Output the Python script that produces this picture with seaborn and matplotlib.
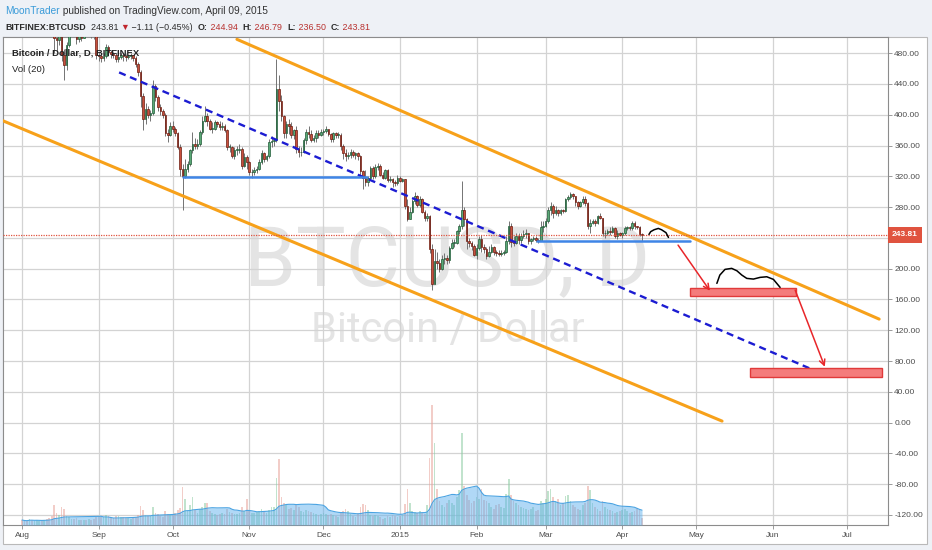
import numpy as np
import pandas as pd
import seaborn as sns
import matplotlib.pyplot as plt
import matplotlib.dates as mdates
from matplotlib.patches import Rectangle
from matplotlib.ticker import FuncFormatter, MultipleLocator

# BITFINEX:BTCUSD daily candles 2014-08-01 .. 2015-04-09
first_open = 594

close_aug = [590, 588, 584, 587, 583, 586, 590, 592, 588, 589, 574, 566, 545, 500, 497, 515, 478, 465, 490, 515,
             518, 513, 498, 505, 500, 510, 508, 508, 505, 502, 478]
high_aug = [596, 592, 590, 592, 590, 590, 595, 597, 594, 592, 590, 578, 568, 548, 510, 520, 520, 485, 495, 522,
            525, 520, 516, 508, 512, 515, 514, 513, 512, 508, 505]
low_aug = [586, 582, 580, 580, 578, 580, 582, 587, 585, 584, 570, 560, 535, 480, 482, 490, 470, 445, 458, 488,
           510, 505, 492, 495, 496, 500, 503, 503, 500, 498, 472]
vol_aug = [5, 4, 4, 6, 5, 4, 5, 4, 4, 5, 6, 7, 9, 20, 12, 10, 18, 16, 9, 8, 6, 6, 7, 5, 5, 5, 5, 6, 5, 6, 8]

close_sep = [476, 474, 476, 488, 482, 479, 478, 472, 475, 477, 476, 475, 476, 477, 474, 466, 455, 424, 395, 408,
             400, 402, 437, 423, 410, 405, 400, 376, 374, 386]
high_sep = [482, 480, 480, 492, 490, 484, 482, 480, 478, 480, 480, 479, 478, 480, 478, 476, 468, 458, 428, 415,
            412, 406, 445, 440, 425, 414, 408, 402, 382, 390]
low_sep = [470, 468, 470, 474, 476, 474, 474, 468, 468, 472, 470, 470, 472, 472, 470, 462, 450, 410, 380, 388,
           396, 392, 400, 418, 405, 400, 396, 372, 365, 372]
vol_sep = [9, 8, 8, 10, 9, 8, 7, 9, 9, 8, 8, 7, 7, 6, 7, 8, 10, 19, 15, 10, 9, 9, 18, 12, 11, 9, 8, 14, 11, 10]

close_oct = [382, 376, 358, 330, 320, 330, 336, 354, 362, 360, 362, 378, 392, 398, 392, 382, 382, 390, 388, 384,
             386, 380, 358, 358, 346, 354, 354, 356, 334, 345, 338]
high_oct = [392, 384, 378, 362, 336, 342, 340, 356, 378, 370, 368, 380, 398, 412, 402, 395, 390, 393, 392, 392,
            390, 388, 382, 362, 360, 358, 360, 362, 358, 350, 348]
low_oct = [378, 372, 355, 320, 276, 318, 326, 333, 350, 355, 356, 360, 375, 390, 385, 380, 376, 380, 384, 380,
           380, 378, 354, 352, 344, 342, 348, 350, 330, 332, 330]
vol_oct = [10, 12, 15, 17, 38, 26, 14, 20, 28, 15, 12, 16, 18, 22, 22, 14, 12, 11, 10, 11,
           12, 11, 16, 13, 12, 11, 11, 12, 18, 14, 26]

close_nov = [325, 325, 328, 330, 338, 350, 343, 346, 364, 366, 367, 434, 418, 398, 376, 388, 385, 374, 380, 356,
             351, 352, 367, 378, 375, 367, 370, 376, 374, 378]
high_nov = [340, 330, 332, 334, 342, 354, 352, 348, 368, 372, 370, 472, 452, 425, 400, 392, 395, 390, 382, 385,
            360, 358, 370, 382, 385, 380, 374, 380, 380, 382]
low_nov = [322, 318, 322, 324, 328, 336, 338, 340, 344, 358, 360, 364, 405, 392, 370, 370, 375, 370, 368, 350,
           345, 346, 350, 362, 370, 364, 365, 365, 370, 372]
vol_nov = [14, 12, 12, 13, 14, 16, 13, 12, 15, 18, 18, 47, 66, 28, 22, 20, 16, 17, 15, 20,
           18, 14, 13, 15, 14, 13, 12, 11, 10, 11]

close_dec = [379, 381, 375, 368, 376, 374, 374, 360, 350, 347, 348, 352, 348, 350, 346, 327, 318, 312, 318, 331,
             321, 332, 334, 322, 318, 328, 315, 316, 312, 311, 318]
high_dec = [382, 385, 382, 376, 378, 378, 378, 376, 362, 355, 352, 356, 354, 352, 352, 348, 328, 328, 320, 334,
            334, 336, 337, 336, 325, 330, 330, 320, 318, 315, 322]
low_dec = [374, 376, 372, 364, 365, 370, 370, 354, 342, 340, 342, 344, 345, 343, 341, 322, 303, 308, 308, 315,
           317, 318, 328, 320, 316, 316, 312, 312, 306, 308, 309]
vol_dec = [12, 11, 10, 11, 10, 9, 8, 12, 14, 16, 14, 11, 9, 8, 12, 18, 21, 20, 15, 10,
           9, 10, 9, 8, 6, 7, 9, 8, 10, 9, 8]

close_jan = [314, 316, 282, 264, 274, 288, 294, 283, 290, 274, 266, 268, 226, 180, 210, 208, 200, 212, 214, 211,
             227, 234, 234, 249, 255, 276, 264, 236, 234, 229, 218]
high_jan = [321, 318, 316, 290, 280, 290, 300, 296, 295, 292, 276, 272, 270, 232, 225, 222, 212, 218, 220, 218,
            230, 238, 238, 250, 258, 314, 280, 266, 240, 236, 232]
low_jan = [312, 312, 278, 262, 265, 272, 284, 280, 280, 272, 262, 262, 220, 172, 180, 200, 196, 198, 206, 206,
           208, 226, 228, 232, 245, 252, 255, 226, 228, 224, 216]
vol_jan = [9, 10, 21, 36, 22, 14, 13, 12, 14, 12, 11, 20, 67, 120, 82, 36, 24, 20, 18, 22,
           25, 22, 20, 28, 35, 92, 39, 30, 25, 22, 24]

close_feb = [227, 238, 228, 226, 216, 222, 228, 222, 220, 219, 220, 222, 236, 255, 235, 234, 243, 237, 242, 245,
             246, 236, 239, 240, 237, 236, 254, 255]
high_feb = [232, 242, 244, 232, 228, 230, 232, 230, 224, 224, 224, 224, 242, 262, 260, 242, 246, 246, 246, 250,
            252, 246, 240, 242, 242, 240, 262, 262]
low_feb = [212, 224, 222, 220, 212, 215, 220, 218, 216, 216, 216, 218, 220, 232, 228, 230, 232, 232, 234, 240,
           240, 232, 232, 236, 235, 234, 236, 248]
vol_feb = [28, 26, 36, 25, 24, 22, 18, 16, 20, 21, 18, 17, 31, 46, 30, 24, 22, 20, 18, 17,
           16, 15, 16, 18, 14, 15, 24, 22]

close_mar = [262, 276, 282, 272, 276, 272, 276, 275, 290, 293, 297, 295, 286, 282, 286, 291, 285, 256, 260, 262,
             260, 268, 266, 246, 247, 249, 248, 253, 243, 247, 244]
high_mar = [266, 280, 286, 284, 282, 278, 278, 278, 292, 296, 300, 298, 295, 288, 288, 294, 294, 286, 264, 265,
            264, 270, 272, 266, 250, 252, 254, 256, 254, 250, 248]
low_mar = [254, 260, 270, 266, 270, 268, 270, 272, 274, 288, 290, 290, 282, 278, 280, 284, 282, 252, 246, 258,
           256, 258, 264, 242, 240, 244, 244, 246, 240, 238, 242]
vol_mar = [26, 34, 36, 28, 24, 26, 20, 22, 29, 30, 24, 20, 18, 16, 15, 20, 22, 39, 35, 22,
           18, 16, 14, 24, 18, 16, 15, 14, 12, 13, 14]

close_apr = [247, 253, 254, 253, 260, 255, 254, 244.92, 243.81]
high_apr = [248, 256, 256, 256, 262, 262, 256, 256, 246.79]
low_apr = [240, 244, 250, 250, 250, 252, 252, 242, 236.50]
vol_apr = [15, 16, 14, 12, 13, 14, 17, 15, 7]

last_price = 243.81

# drawings on the chart: days after 2014-08-01, price
upper_days, upper_price = [87, 347], [498, 134.5]
lower_days, lower_price = [-8, 283.4], [392.5, 2]
mid_days, mid_price = [39.3, 324.3], [455, 63]
support1_days, support1_price = [65, 139.7], [319.5, 319.5]
support2_days, support2_price = [208.5, 270.4], [236, 236]
box1_days, box1_price = [270.4, 313.4], [164.8, 174.4]
box2_days, box2_price = [294.7, 348.2], [58.8, 70.5]
arrow1_days, arrow1_price = [265.6, 278.5], [230.6, 171.3]
arrow2_days, arrow2_price = [313, 325], [172.2, 72.6]
arc_days = [253.8, 254.5, 255.9, 257.6, 258.9, 260.7, 261.7]
arc_price = [244.5, 248.1, 250.6, 252.3, 250.6, 246.8, 240.6]
wave_days = [281.3, 282.5, 284.6, 287.3, 289.4, 291.4, 293.4, 296.1, 298.8, 301.5, 304.2, 306.9]
wave_price = [180.9, 191.7, 199.1, 200.4, 197.3, 191.7, 187.4, 186.5, 188.7, 189.5, 186.1, 175.7]

close = np.array(close_aug + close_sep + close_oct + close_nov + close_dec + close_jan + close_feb + close_mar + close_apr, float)
high = np.array(high_aug + high_sep + high_oct + high_nov + high_dec + high_jan + high_feb + high_mar + high_apr, float)
low = np.array(low_aug + low_sep + low_oct + low_nov + low_dec + low_jan + low_feb + low_mar + low_apr, float)
volume = np.array(vol_aug + vol_sep + vol_oct + vol_nov + vol_dec + vol_jan + vol_feb + vol_mar + vol_apr, float)

dates = pd.date_range('2014-08-01', periods=len(close), freq='D')
opens = np.r_[first_open, close[:-1]]
high = np.maximum(high, np.maximum(opens, close))
low = np.minimum(low, np.minimum(opens, close))
vol_ma = pd.Series(volume).rolling(20, min_periods=1).mean().values

x = mdates.date2num(dates)
t0 = x[0]
up = close >= opens

sns.set_theme(style='white')
plt.rcParams['font.family'] = ['Liberation Sans', 'DejaVu Sans']

W, H = 932, 550
fig = plt.figure(figsize=(W / 100, H / 100), dpi=100, facecolor='#eef1f6')

# white chart panel (price pane + axes)
fig.add_artist(Rectangle((3 / W, 1 - 544 / H), 924 / W, 507 / H, transform=fig.transFigure,
                         facecolor='white', edgecolor='#b9b9b9', lw=0.8, zorder=-1))

ax = fig.add_axes([3 / W, 25 / H, 885 / W, 488 / H])
ax.set_facecolor('white')

ax2 = ax.twinx()
ax.yaxis.tick_right()

# watermark
ax.text(0.5017, 0.539, 'BTCUSD, D', transform=ax.transAxes, ha='center', va='center',
        fontsize=60, family=['Roboto', 'DejaVu Sans'], color='#e4e4e4', zorder=0.4)
ax.text(0.503, 0.399, 'Bitcoin / Dollar', transform=ax.transAxes, ha='center', va='center',
        fontsize=30, family=['Roboto', 'DejaVu Sans'], color='#e4e4e4', zorder=0.4)

# candles
ax.vlines(x, low, high, color='#737373', lw=0.7, zorder=3)
body = np.maximum(np.abs(close - opens), 0.9)
ax.bar(x[up], body[up], bottom=opens[up], width=0.65, color='#5aa876', edgecolor='#1f5a36', lw=0.5, zorder=4)
ax.bar(x[~up], body[~up], bottom=close[~up], width=0.65, color='#c8503c', edgecolor='#6a1b10', lw=0.5, zorder=4)

# trend channel and lines
sns.lineplot(x=t0 + np.array(upper_days), y=upper_price, ax=ax, color='#f7a11a', lw=2.2, zorder=5)
sns.lineplot(x=t0 + np.array(lower_days), y=lower_price, ax=ax, color='#f7a11a', lw=2.2, zorder=5)
sns.lineplot(x=t0 + np.array(mid_days), y=mid_price, ax=ax, color='#1c1cd2', lw=1.7, ls=(0, (3, 2)), zorder=5)
sns.lineplot(x=t0 + np.array(support1_days), y=support1_price, ax=ax, color='#3f85e6', lw=1.8, zorder=5)
sns.lineplot(x=t0 + np.array(support2_days), y=support2_price, ax=ax, color='#3f85e6', lw=1.8, zorder=5)
ax.axhline(last_price, color='#e0533f', lw=0.9, ls=(0, (1, 1)), zorder=5)

for d, p in [(box1_days, box1_price), (box2_days, box2_price)]:
    ax.add_patch(Rectangle((t0 + d[0], p[0]), d[1] - d[0], p[1] - p[0],
                           facecolor='#f47c7c', edgecolor='#e03a3a', lw=1, zorder=6))
for d, p in [(arrow1_days, arrow1_price), (arrow2_days, arrow2_price)]:
    ax.annotate('', xy=(t0 + d[1], p[1]), xytext=(t0 + d[0], p[0]),
                arrowprops=dict(arrowstyle='->', color='#e8262a', lw=1.1, mutation_scale=10,
                                shrinkA=0, shrinkB=0), zorder=7)
sns.lineplot(x=t0 + np.array(arc_days), y=arc_price, ax=ax, color='black', lw=1.1, sort=False, estimator=None, zorder=7)
sns.lineplot(x=t0 + np.array(wave_days), y=wave_price, ax=ax, color='black', lw=1.1, sort=False, estimator=None, zorder=7)

ax.set_xlim(mdates.date2num(pd.Timestamp('2014-07-24 07:00')), mdates.date2num(pd.Timestamp('2015-07-17 14:00')))
ax.set_ylim(-133, 501)

# volume pane
vcol = np.where(up, '#8fcca4', '#e8a59c')
ax2.bar(x, volume, width=0.7, color=vcol, alpha=0.55, lw=0, zorder=1)
ax2.fill_between(x, vol_ma, color='#62b3ee', alpha=0.5, lw=0, zorder=2)
sns.lineplot(x=x, y=vol_ma, ax=ax2, color='#4aa3e2', lw=0.8, zorder=3)
ax2.set_ylim(0, 488)
ax2.set_yticks([])
ax2.tick_params(right=False, labelright=False)
for s in ax2.spines.values():
    s.set_visible(False)

# axes styling; the 240 label sits under the last-price tag
ax.yaxis.set_major_locator(MultipleLocator(40))
ax.yaxis.set_major_formatter(FuncFormatter(lambda v, _: '' if abs(v - 240) < 1 else f'{v:.2f}'))
ax.xaxis.set_major_locator(mdates.MonthLocator())
ax.xaxis.set_major_formatter(FuncFormatter(
    lambda v, _: '2015' if mdates.num2date(v).month == 1 else mdates.num2date(v).strftime('%b')))
ax.grid(True, color='#d3d3d3', lw=0.9)
ax.set_axisbelow(True)
ax.tick_params(axis='y', which='both', right=True, left=False, labelright=True, labelleft=False,
               length=3, width=0.6, pad=1.5, colors='#8a8a8a', labelcolor='#4d4d4d', labelsize=6)
ax.tick_params(axis='x', bottom=True, length=3, width=0.6, pad=2.2, colors='#8a8a8a',
               labelcolor='#4d4d4d', labelsize=6)
for s in ax.spines.values():
    s.set_color('#8c8c8c')
    s.set_linewidth(0.8)
ax.set_xlabel('')
ax.set_ylabel('')
ax2.set_ylabel('')

# last price tag on the price scale
ax.text(1.0045, last_price, f'{last_price:.2f}', transform=ax.get_yaxis_transform(), ha='left', va='center',
        color='white', fontsize=6, weight='bold', clip_on=False, zorder=10,
        bbox=dict(boxstyle='square,pad=0.5', fc='#e0533f', ec='none'))

# legend texts in the pane
ax.text(9 / 885, 1 - 16 / 488, 'Bitcoin / Dollar, D, BITFINEX', transform=ax.transAxes, ha='left', va='center',
        fontsize=6.8, weight='bold', color='#222222', zorder=9)
ax.text(9 / 885, 1 - 32 / 488, 'Vol (20)', transform=ax.transAxes, ha='left', va='center',
        fontsize=6.8, color='#222222', zorder=9)

# header rows
renderer = fig.canvas.get_renderer()


def text_row(parts, x_px, base_px, size):
    for s, color, weight in parts:
        t = fig.text(x_px / W, 1 - base_px / H, s, color=color, weight=weight, fontsize=size,
                     ha='left', va='baseline')
        x_px = t.get_window_extent(renderer=renderer).x1


red = '#b8312f'
dark = '#2b2b2b'
text_row([('MoonTrader', '#3a9bd9', 'normal'),
          (' published on TradingView.com, April 09, 2015', '#333333', 'normal')], 5, 14.5, 7.3)
text_row([('BITFINEX:BTCUSD', dark, 'bold'), ('  243.81 ', dark, 'normal'), ('▼', '#c0262d', 'normal'),
          (' \u22121.11 (\u22120.45%)  ', dark, 'normal'),
          ('O:', dark, 'bold'), (' 244.94  ', red, 'normal'),
          ('H:', dark, 'bold'), (' 246.79  ', red, 'normal'),
          ('L:', dark, 'bold'), (' 236.50  ', red, 'normal'),
          ('C:', dark, 'bold'), (' 243.81', red, 'normal')], 5, 30, 6.4)

fig.savefig('out.png', dpi=100, facecolor=fig.get_facecolor())
